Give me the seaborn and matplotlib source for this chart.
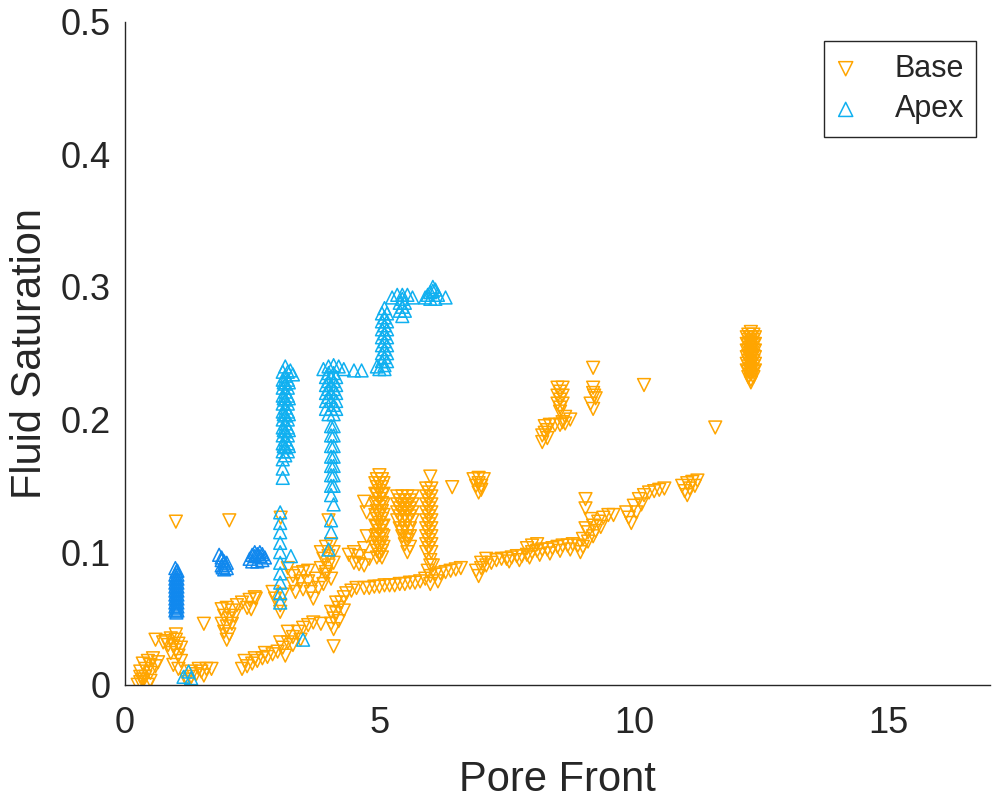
import matplotlib
matplotlib.use("Agg")
import matplotlib.pyplot as plt
import seaborn as sns
import pandas as pd

# ---------------- data ----------------
base_x = [
    # near origin
    0.25, 0.3, 0.35, 0.4, 0.45, 0.5, 0.3, 0.4, 0.5, 0.6, 0.35, 0.45, 0.55, 0.65, 0.3, 0.5, 0.6, 0.75,
    # x ~ 1, low
    0.8, 0.9, 1.0, 1.05, 0.95, 1.0, 1.05, 1.1, 0.9, 1.1, 0.85, 1.0, 0.95, 1.05,
    # lone high points
    1.0, 2.05, 3.06, 4.0,
    # x 1.1-1.8 bottom
    1.2, 1.3, 1.4, 1.5, 1.6, 1.7, 1.3, 1.45, 1.25, 1.55,
    # x ~ 2 column
    1.9, 2.0, 2.1, 1.95, 2.05, 2.15, 1.9, 2.0, 2.1, 1.95, 2.05, 2.0, 2.2, 2.3, 2.45, 2.55, 2.4, 1.55, 2.48, 2.57,
    # lower diagonal x 2.3-3.8
    2.3, 2.4, 2.5, 2.6, 2.7, 2.8, 2.9, 2.35, 2.55, 2.75, 3.0, 3.1, 3.2, 3.3, 3.4, 3.5, 3.6, 3.7,
    3.15, 3.3, 3.45, 3.05, 3.2, 3.85,
    # under apex column x ~ 3
    2.95, 3.05, 3.05, 3.1, 2.9,
    # band x 3.2-4.1
    3.3, 3.4, 3.5, 3.6, 3.3, 3.45, 3.6, 3.75, 3.35, 3.5, 3.65, 3.8, 3.9, 3.7, 3.2, 3.95,
    # column x ~ 4
    3.85, 3.95, 4.05, 3.9, 4.0, 4.1, 3.95, 4.05, 4.0, 4.1, 3.85,
    # diagonal x 4.05-4.6
    4.05, 4.1, 4.15, 4.2, 4.25, 4.3, 4.35, 4.45, 4.55, 4.1, 4.2, 4.3, 4.05, 4.15, 4.1,
    # band y ~ 0.075
    4.7, 4.8, 4.9, 5.0, 5.1, 5.2, 5.3, 5.4, 5.5, 5.6, 5.7, 5.8,
    # x 5.9-6.7
    5.9, 6.0, 6.1, 6.2, 6.3, 6.4, 6.5, 6.6, 5.95, 6.05, 6.0, 6.15,
    # x 6.9-7.45
    6.9, 7.0, 7.1, 7.2, 7.3, 7.0, 7.1, 6.95, 7.4,
    # x 7.45-8.9
    7.5, 7.6, 7.7, 7.8, 7.9, 8.0, 8.1, 8.2, 8.3, 8.4, 8.5, 8.6, 8.7, 8.8, 7.9, 8.0, 8.1,
    7.55, 7.75, 7.95, 8.15, 8.35, 8.55, 8.75,
    # x 8.9-9.7
    8.9, 9.0, 9.1, 9.2, 9.3, 9.4, 9.5, 9.6, 9.0, 9.1, 9.2, 9.15, 9.05, 9.05,
    8.95, 9.05, 9.25, 9.35,
    # x 9.8-10.7
    9.85, 9.9, 10.0, 10.1, 10.2, 10.3, 10.4, 10.5, 10.6, 10.05, 10.15, 9.95,
    # x 10.9-11.3
    10.95, 11.05, 11.15, 11.25, 11.0, 11.1, 11.2, 11.05,
    # lone
    11.6, 10.2, 6.0, 6.43,
    # column x ~ 12.3
    12.25, 12.35, 12.25, 12.35, 12.25, 12.35, 12.25, 12.35, 12.25, 12.35, 12.25, 12.35,
    12.25, 12.35, 12.25, 12.35, 12.25, 12.35, 12.3, 12.3,
    12.3, 12.3, 12.3, 12.3, 12.3, 12.3, 12.3, 12.3, 12.3,
    12.22, 12.38, 12.22, 12.38, 12.22, 12.38, 12.22, 12.38, 12.22, 12.38, 12.22, 12.38,
    # cluster x ~ 8.5 upper
    8.5, 8.6, 8.5, 8.6, 8.5, 8.6, 8.55, 8.65, 8.75, 8.6, 8.55, 8.55, 8.55,
    # cluster x ~ 8.4 lower
    8.25, 8.35, 8.45, 8.55, 8.65, 8.25, 8.3, 8.2, 8.3, 8.2,
    # cluster x ~ 9.2
    9.2, 9.2, 9.25, 9.15, 9.2, 9.2, 9.22,
    # column x ~ 5
    4.95, 5.05, 4.95, 5.05, 4.95, 5.05, 4.95, 5.05, 4.95, 5.05, 4.95, 5.05,
    4.95, 5.05, 4.95, 5.05, 4.95, 5.05, 4.95, 5.05, 4.95, 5.05,
    5.0, 5.0, 5.0, 5.0, 5.0, 5.0, 5.0, 5.0, 5.0, 5.0, 5.0,
    4.92, 5.08, 4.92, 5.08, 4.92, 5.08, 4.92, 5.08, 4.92, 5.08, 4.92, 5.08, 4.92, 5.08,
    4.7, 4.75, 4.75, 4.7, 4.8, 4.7, 4.6, 4.5, 4.4, 4.5, 4.6,
    # column x ~ 5.5
    5.35, 5.45, 5.55, 5.65, 5.35, 5.45, 5.55, 5.65, 5.35, 5.45, 5.55, 5.65,
    5.35, 5.45, 5.55, 5.65, 5.4, 5.5, 5.6, 5.45, 5.55, 5.6, 5.5, 5.6, 5.55,
    5.4, 5.5, 5.6, 5.4, 5.5, 5.6, 5.4, 5.5, 5.6, 5.45, 5.55,
    # column x ~ 6
    5.92, 6.02, 5.92, 6.02, 5.92, 6.02, 5.92, 6.02, 5.92, 6.02, 5.92, 6.02,
    5.92, 6.02, 5.92, 6.02, 5.92, 6.02, 6.0, 6.0,
    5.97, 5.97, 5.97, 5.97, 5.97, 5.97, 5.97, 5.97,
    # cluster x ~ 6.95
    6.85, 6.95, 7.05, 6.9, 7.0, 6.95, 6.95, 7.0,
]
base_y = [
    0.0, 0.002, 0.004, 0.006, 0.0, 0.003, 0.01, 0.012, 0.009, 0.014, 0.016, 0.018, 0.02, 0.017, 0.006, 0.015, 0.034, 0.032,
    0.033, 0.035, 0.034, 0.031, 0.029, 0.026, 0.022, 0.018, 0.024, 0.028, 0.030, 0.038, 0.015, 0.012,
    0.123, 0.124, 0.126, 0.124,
    0.004, 0.006, 0.008, 0.010, 0.012, 0.012, 0.010, 0.012, 0.002, 0.007,
    0.057, 0.058, 0.056, 0.052, 0.050, 0.052, 0.046, 0.044, 0.046, 0.040, 0.038, 0.034, 0.060, 0.062, 0.064, 0.066, 0.058, 0.046, 0.057, 0.065,
    0.012, 0.014, 0.016, 0.018, 0.020, 0.021, 0.023, 0.018, 0.020, 0.024, 0.025, 0.028, 0.032, 0.036, 0.040, 0.043, 0.045, 0.047,
    0.022, 0.030, 0.034, 0.032, 0.040, 0.046,
    0.065, 0.060, 0.055, 0.068, 0.070,
    0.082, 0.084, 0.085, 0.086, 0.076, 0.078, 0.078, 0.080, 0.070, 0.072, 0.070, 0.073, 0.076, 0.065, 0.088, 0.083,
    0.100, 0.104, 0.106, 0.095, 0.090, 0.092, 0.085, 0.080, 0.097, 0.100, 0.088,
    0.046, 0.050, 0.054, 0.058, 0.062, 0.066, 0.069, 0.071, 0.073, 0.042, 0.048, 0.056, 0.055, 0.062, 0.029,
    0.073, 0.073, 0.074, 0.074, 0.075, 0.075, 0.075, 0.076, 0.076, 0.077, 0.077, 0.078,
    0.080, 0.082, 0.083, 0.084, 0.085, 0.086, 0.087, 0.088, 0.086, 0.090, 0.076, 0.078,
    0.086, 0.088, 0.090, 0.092, 0.094, 0.092, 0.095, 0.082, 0.095,
    0.095, 0.096, 0.097, 0.097, 0.098, 0.100, 0.101, 0.102, 0.102, 0.103, 0.104, 0.105, 0.105, 0.106, 0.103, 0.105, 0.106,
    0.093, 0.094, 0.096, 0.098, 0.099, 0.101, 0.102,
    0.105, 0.110, 0.115, 0.120, 0.123, 0.126, 0.128, 0.128, 0.104, 0.108, 0.112, 0.125, 0.133, 0.140,
    0.100, 0.118, 0.116, 0.119,
    0.130, 0.126, 0.135, 0.140, 0.143, 0.145, 0.146, 0.147, 0.148, 0.130, 0.136, 0.122,
    0.150, 0.152, 0.153, 0.154, 0.146, 0.148, 0.150, 0.143,
    0.194, 0.226, 0.157, 0.149,
    0.264, 0.264, 0.260, 0.260, 0.256, 0.256, 0.252, 0.252, 0.248, 0.248, 0.244, 0.244,
    0.240, 0.240, 0.236, 0.236, 0.232, 0.232, 0.228, 0.262,
    0.258, 0.254, 0.250, 0.246, 0.242, 0.238, 0.234, 0.230, 0.266,
    0.262, 0.262, 0.257, 0.257, 0.252, 0.252, 0.247, 0.247, 0.242, 0.242, 0.237, 0.237,
    0.224, 0.224, 0.218, 0.218, 0.212, 0.212, 0.206, 0.202, 0.200, 0.198, 0.221, 0.215, 0.209,
    0.195, 0.196, 0.196, 0.196, 0.197, 0.190, 0.186, 0.183, 0.192, 0.188,
    0.224, 0.220, 0.216, 0.212, 0.208, 0.239, 0.218,
    0.155, 0.155, 0.149, 0.149, 0.143, 0.143, 0.137, 0.137, 0.131, 0.131, 0.125, 0.125,
    0.119, 0.119, 0.113, 0.113, 0.107, 0.107, 0.101, 0.101, 0.096, 0.096,
    0.158, 0.152, 0.146, 0.140, 0.134, 0.128, 0.122, 0.116, 0.110, 0.104, 0.098,
    0.152, 0.152, 0.144, 0.144, 0.136, 0.136, 0.128, 0.128, 0.120, 0.120, 0.112, 0.112, 0.104, 0.104,
    0.138, 0.130, 0.112, 0.103, 0.095, 0.090, 0.091, 0.092, 0.098, 0.100, 0.097,
    0.142, 0.142, 0.142, 0.142, 0.136, 0.136, 0.136, 0.136, 0.130, 0.130, 0.130, 0.130,
    0.124, 0.124, 0.124, 0.124, 0.118, 0.118, 0.118, 0.112, 0.112, 0.112, 0.106, 0.104, 0.100,
    0.139, 0.139, 0.139, 0.133, 0.133, 0.133, 0.127, 0.127, 0.127, 0.115, 0.109,
    0.148, 0.148, 0.142, 0.142, 0.136, 0.136, 0.130, 0.130, 0.124, 0.124, 0.118, 0.118,
    0.112, 0.112, 0.106, 0.106, 0.100, 0.100, 0.094, 0.090,
    0.145, 0.139, 0.133, 0.127, 0.121, 0.115, 0.109, 0.103,
    0.155, 0.156, 0.155, 0.150, 0.150, 0.145, 0.152, 0.147,
]

apex_dark_x = [
    0.99, 1.03, 0.99, 1.03, 0.99, 1.03, 0.99, 1.03, 0.99, 1.03, 0.99, 1.03,
    0.99, 1.03, 0.99, 1.03, 0.99, 1.03, 0.99, 1.03, 0.99, 1.03,
    1.01, 1.01, 1.01, 1.01, 1.01, 1.01, 1.01, 1.01, 1.01, 1.01, 1.01,
    1.85, 1.9, 1.95, 1.9, 1.95, 2.0, 1.9, 2.0, 1.92, 1.97,
    2.45, 2.55, 2.65, 2.75, 2.5, 2.6, 2.7, 2.55, 2.65, 2.6, 2.5, 2.7,
]
apex_dark_y = [
    0.088, 0.086, 0.083, 0.083, 0.080, 0.080, 0.077, 0.077, 0.074, 0.074, 0.071, 0.071,
    0.068, 0.068, 0.065, 0.065, 0.062, 0.062, 0.059, 0.059, 0.056, 0.056,
    0.0855, 0.0815, 0.0785, 0.0755, 0.0725, 0.0695, 0.0665, 0.0635, 0.0605, 0.0575, 0.0545,
    0.098, 0.096, 0.093, 0.090, 0.087, 0.088, 0.094, 0.092, 0.0885, 0.0905,
    0.095, 0.097, 0.097, 0.096, 0.093, 0.093, 0.094, 0.100, 0.100, 0.0985, 0.098, 0.0985,
]

apex_x = [
    # column x ~ 3.15
    3.1, 3.2, 3.1, 3.2, 3.1, 3.2, 3.1, 3.2, 3.1, 3.2, 3.1, 3.2, 3.1, 3.2, 3.1, 3.2,
    3.1, 3.2, 3.1, 3.2, 3.1, 3.2, 3.1, 3.1, 3.1, 3.25, 3.3, 3.15,
    3.15, 3.15, 3.15, 3.15, 3.15, 3.15, 3.15, 3.15, 3.15, 3.15, 3.15,
    3.12, 3.22, 3.12, 3.22, 3.12, 3.22, 3.12, 3.22, 3.12, 3.22,
    # sparse lower part
    3.05, 3.05, 3.05, 3.05, 3.05, 3.05, 3.05, 3.05, 3.05, 3.05, 3.26,
    # column x ~ 4
    3.9, 4.0, 4.1, 4.2, 4.3, 4.5, 4.65,
    3.95, 4.05, 4.15, 3.95, 4.05, 4.15, 3.95, 4.05, 4.15, 3.95, 4.05, 4.15, 3.95, 4.05, 4.15, 4.0, 4.1,
    4.0, 4.1, 4.0, 4.1, 4.0, 4.1, 4.0, 4.1,
    4.05, 4.1, 4.05, 4.1, 4.05, 4.1, 4.05, 4.1, 4.05, 4.1, 4.05, 4.1, 4.05, 4.1,
    4.05, 4.1, 4.05, 4.05, 4.0,
    # column x ~ 5.1
    5.05, 5.15, 5.05, 5.15, 5.05, 5.15, 5.05, 5.15, 5.05, 5.15, 5.05, 5.15, 5.05, 5.15,
    4.95, 5.0, 5.1, 5.1,
    5.1, 5.1, 5.1, 5.1, 5.1, 5.1, 5.1,
    # cluster x ~ 5.45
    5.25, 5.35, 5.45, 5.55, 5.65, 5.4, 5.5, 5.4, 5.5, 5.45, 5.45, 5.45,
    # cluster x ~ 6.1
    5.9, 6.0, 6.05, 6.1, 6.15, 6.3, 6.0, 6.1, 5.95, 6.05,
    # low points
    3.5, 1.15, 1.3, 1.25,
]
apex_y = [
    0.236, 0.236, 0.230, 0.230, 0.224, 0.224, 0.218, 0.218, 0.212, 0.212, 0.206, 0.206, 0.200, 0.200, 0.194, 0.194,
    0.188, 0.188, 0.182, 0.182, 0.176, 0.176, 0.170, 0.163, 0.156, 0.237, 0.234, 0.240,
    0.233, 0.227, 0.221, 0.215, 0.209, 0.203, 0.197, 0.191, 0.185, 0.179, 0.173,
    0.228, 0.228, 0.216, 0.216, 0.204, 0.204, 0.192, 0.192, 0.180, 0.180,
    0.130, 0.122, 0.115, 0.107, 0.100, 0.092, 0.084, 0.077, 0.069, 0.062, 0.097,
    0.238, 0.240, 0.241, 0.240, 0.238, 0.237, 0.237,
    0.232, 0.232, 0.232, 0.226, 0.226, 0.226, 0.220, 0.220, 0.220, 0.214, 0.214, 0.214, 0.208, 0.208, 0.208, 0.204, 0.204,
    0.235, 0.235, 0.229, 0.229, 0.223, 0.223, 0.217, 0.211,
    0.195, 0.195, 0.188, 0.188, 0.180, 0.180, 0.172, 0.172, 0.165, 0.165, 0.158, 0.158, 0.150, 0.150,
    0.143, 0.136, 0.124, 0.115, 0.102,
    0.280, 0.280, 0.274, 0.274, 0.268, 0.268, 0.262, 0.262, 0.256, 0.256, 0.250, 0.250, 0.244, 0.244,
    0.240, 0.238, 0.238, 0.284,
    0.277, 0.271, 0.265, 0.259, 0.253, 0.247, 0.241,
    0.292, 0.294, 0.294, 0.294, 0.292, 0.288, 0.288, 0.282, 0.282, 0.278, 0.285, 0.291,
    0.292, 0.296, 0.300, 0.298, 0.294, 0.292, 0.291, 0.291, 0.294, 0.297,
    0.034, 0.006, 0.005, 0.010,
]

x_ticks = [0, 5, 10, 15]
y_ticks = [0, 0.1, 0.2, 0.3, 0.4, 0.5]

# ---------------- style ----------------
sns.set_theme(style="white")
plt.rcParams["font.family"] = ["Liberation Sans", "DejaVu Sans"]

ORANGE = "#FFA500"
LIGHT_BLUE = "#10B0F0"
DARK_BLUE = "#1088EE"
AXIS = "#262626"

fig = plt.figure(figsize=(9.92, 8.0), dpi=100)
ax = fig.add_axes([0.126, 0.144, 0.872, 0.829])

base_df = pd.DataFrame({"x": base_x, "y": base_y})
apex_df = pd.DataFrame({"x": apex_x, "y": apex_y})
apexd_df = pd.DataFrame({"x": apex_dark_x, "y": apex_dark_y})

mk = dict(s=85, linewidth=1.1, facecolor="none")
sns.scatterplot(data=base_df, x="x", y="y", marker="v", color=ORANGE,
                edgecolor=ORANGE, label="Base", ax=ax, **mk)
sns.scatterplot(data=apexd_df, x="x", y="y", marker="^", color=DARK_BLUE,
                edgecolor=DARK_BLUE, ax=ax, legend=False, **mk)
sns.scatterplot(data=apex_df, x="x", y="y", marker="^", color=LIGHT_BLUE,
                edgecolor=LIGHT_BLUE, label="Apex", ax=ax, **mk)

ax.set_xlim(0, 17)
ax.set_ylim(0, 0.5)
ax.set_xticks(x_ticks)
ax.set_yticks(y_ticks)
ax.set_yticklabels(["0", "0.1", "0.2", "0.3", "0.4", "0.5"])
ax.tick_params(direction="in", length=6, width=1.0, colors=AXIS,
               labelsize=26, labelcolor=AXIS)
ax.tick_params(axis="x", pad=15)
ax.tick_params(axis="y", pad=10)
for side in ["top", "right"]:
    ax.spines[side].set_visible(False)
for side in ["left", "bottom"]:
    ax.spines[side].set_color(AXIS)
    ax.spines[side].set_linewidth(1.0)

ax.set_xlabel("Pore Front", fontsize=30, color=AXIS, labelpad=14)
ax.set_ylabel("Fluid Saturation", fontsize=30, color=AXIS, labelpad=8)

leg = ax.legend(loc="upper right", bbox_to_anchor=(0.984, 0.97), fontsize=22,
                frameon=True, fancybox=False, edgecolor=AXIS, framealpha=1,
                handletextpad=1.3, borderpad=0.4, labelspacing=0.35,
                markerscale=1.1, handlelength=0.6, borderaxespad=0.0)
leg.get_frame().set_linewidth(1.0)
for h in leg.legend_handles:
    h.set_facecolor("none")

fig.savefig("out.png", dpi=100)
